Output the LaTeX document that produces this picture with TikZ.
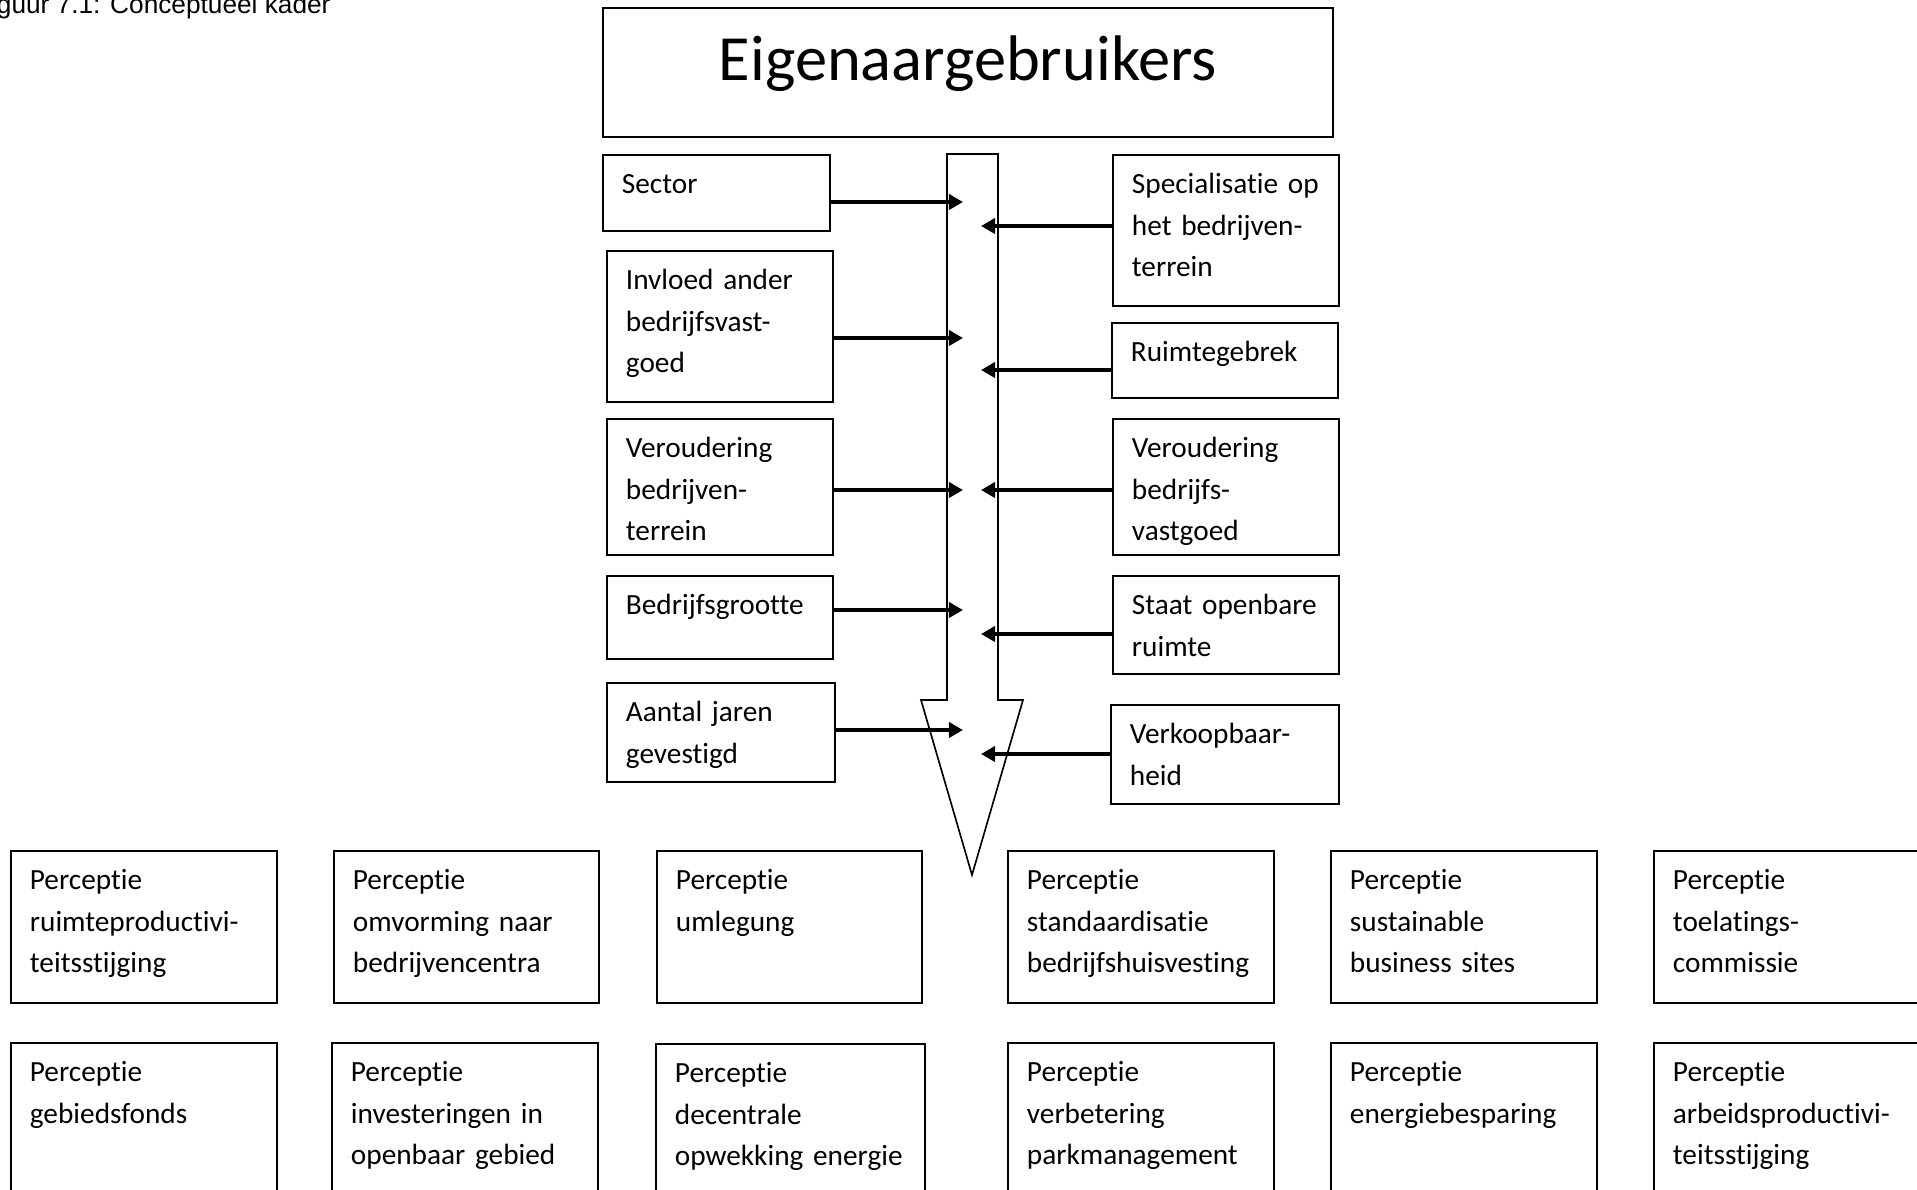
\documentclass[tikz,border=0pt]{standalone}
\usepackage{fontspec}
\usepackage{tikz}
\usetikzlibrary{arrows.meta}
\setmainfont{Carlito}[RawFeature=-liga, RawFeature=-clig, RawFeature=-calt, RawFeature=-rlig, RawFeature=-dlig]
\newfontfamily\capfont{Liberation Sans}
\newlength\pxu
\setlength\pxu{0.015cm}
\newcommand\boxfont{\fontsize{12.5}{17.7}\selectfont}
\tikzset{
  box/.style={draw, line width=0.8pt, anchor=north west, align=left,
    inner xsep=19\pxu, inner ysep=0pt, text height=39\pxu, font=\boxfont},
  link/.style={line width=1.4pt, -{Triangle[length=6pt,width=6.5pt]}},
}
\begin{document}
\begin{tikzpicture}[x=0.015cm, y=-0.015cm]
		\useasboundingbox (0,0) rectangle (1917,1190);
		\draw (331,14) node [anchor=base east, inner sep=0pt, font=\capfont\fontsize{11.2}{13}\selectfont] (caption) {Figuur 7.1: Conceptueel kader};
		\draw (602,7) node [box, align=center, inner xsep=0pt, text width=730\pxu, text height=73\pxu, text depth=56\pxu, font=\fontsize{27.5}{33}\selectfont] (owners) {Eigenaargebruikers};
		% big arrow
		\draw[line width=0.7pt] (947,154) -- (998,154) -- (998,700) -- (1023,700) -- (972,875) -- (921,700) -- (947,700) -- cycle;
		\coordinate (inL) at (963,0);
		\coordinate (inR) at (981,0);
		% factors left
		\draw (602,154) node [box, text width=189\pxu, text depth=37\pxu] (sector) {Sector};
		\draw (606,250) node [box, text width=188\pxu, text depth=112\pxu] (invloed) {Invloed ander\\bedrijfsvast-\\goed};
		\draw (606,418) node [box, text width=188\pxu, text depth=97\pxu] (verbt) {Veroudering\\bedrijven-\\terrein};
		\draw (606,575) node [box, text width=188\pxu, text depth=44\pxu] (grootte) {Bedrijfsgrootte};
		\draw (606,682) node [box, text width=190\pxu, text depth=60\pxu] (jaren) {Aantal jaren\\gevestigd};
		% factors right
		\draw (1112,154) node [box, text width=188\pxu, text depth=112\pxu] (special) {Specialisatie op\\het bedrijven-\\terrein};
		\draw (1111,322) node [box, text width=188\pxu, text depth=36\pxu] (ruimte) {Ruimtegebrek};
		\draw (1112,418) node [box, text width=188\pxu, text depth=97\pxu] (verbv) {Veroudering\\bedrijfs-\\vastgoed};
		\draw (1112,575) node [box, text width=188\pxu, text depth=59\pxu] (staat) {Staat openbare\\ruimte};
		\draw (1110,704) node [box, text width=190\pxu, text depth=60\pxu] (verkoop) {Verkoopbaar-\\heid};
		% perceptions
		\draw (10,850) node [box, text width=228\pxu, text depth=113\pxu] (ruimteprod) {Perceptie\\ruimteproductivi-\\teitsstijging};
		\draw (333,850) node [box, text width=227\pxu, text depth=113\pxu] (omvorming) {Perceptie\\omvorming naar\\bedrijvencentra};
		\draw (656,850) node [box, text width=227\pxu, text depth=113\pxu] (umlegung) {Perceptie\\umlegung};
		\draw (1007,850) node [box, text width=228\pxu, text depth=113\pxu] (standaard) {Perceptie\\standaardisatie\\bedrijfshuisvesting};
		\draw (1330,850) node [box, text width=228\pxu, text depth=113\pxu] (sustain) {Perceptie\\sustainable\\business sites};
		\draw (1653,850) node [box, text width=228\pxu, text depth=113\pxu] (toelating) {Perceptie\\toelatings-\\commissie};
		\draw (10,1042) node [box, text width=228\pxu, text depth=113\pxu] (fonds) {Perceptie\\gebiedsfonds};
		\draw (331,1042) node [box, text width=228\pxu, text depth=113\pxu] (invest) {Perceptie\\investeringen in\\openbaar gebied};
		\draw (655,1043) node [box, text width=231\pxu, text depth=113\pxu] (energie) {Perceptie\\decentrale\\opwekking energie};
		\draw (1007,1042) node [box, text width=228\pxu, text depth=113\pxu] (parkman) {Perceptie\\verbetering\\parkmanagement};
		\draw (1330,1042) node [box, text width=228\pxu, text depth=113\pxu] (besparing) {Perceptie\\energiebesparing};
		\draw (1653,1042) node [box, text width=228\pxu, text depth=113\pxu] (arbeid) {Perceptie\\arbeidsproductivi-\\teitsstijging};
		\path[link]
			(sector.east |- 0,202) edge (inL |- 0,202)
			(invloed.east |- 0,338) edge (inL |- 0,338)
			(verbt.east |- 0,490) edge (inL |- 0,490)
			(grootte.east |- 0,610) edge (inL |- 0,610)
			(jaren.east |- 0,730) edge (inL |- 0,730)
			(special.west |- 0,226) edge (inR |- 0,226)
			(ruimte.west |- 0,370) edge (inR |- 0,370)
			(verbv.west |- 0,490) edge (inR |- 0,490)
			(staat.west |- 0,634) edge (inR |- 0,634)
			(verkoop.west |- 0,754) edge (inR |- 0,754);
	\end{tikzpicture}
\end{document}
